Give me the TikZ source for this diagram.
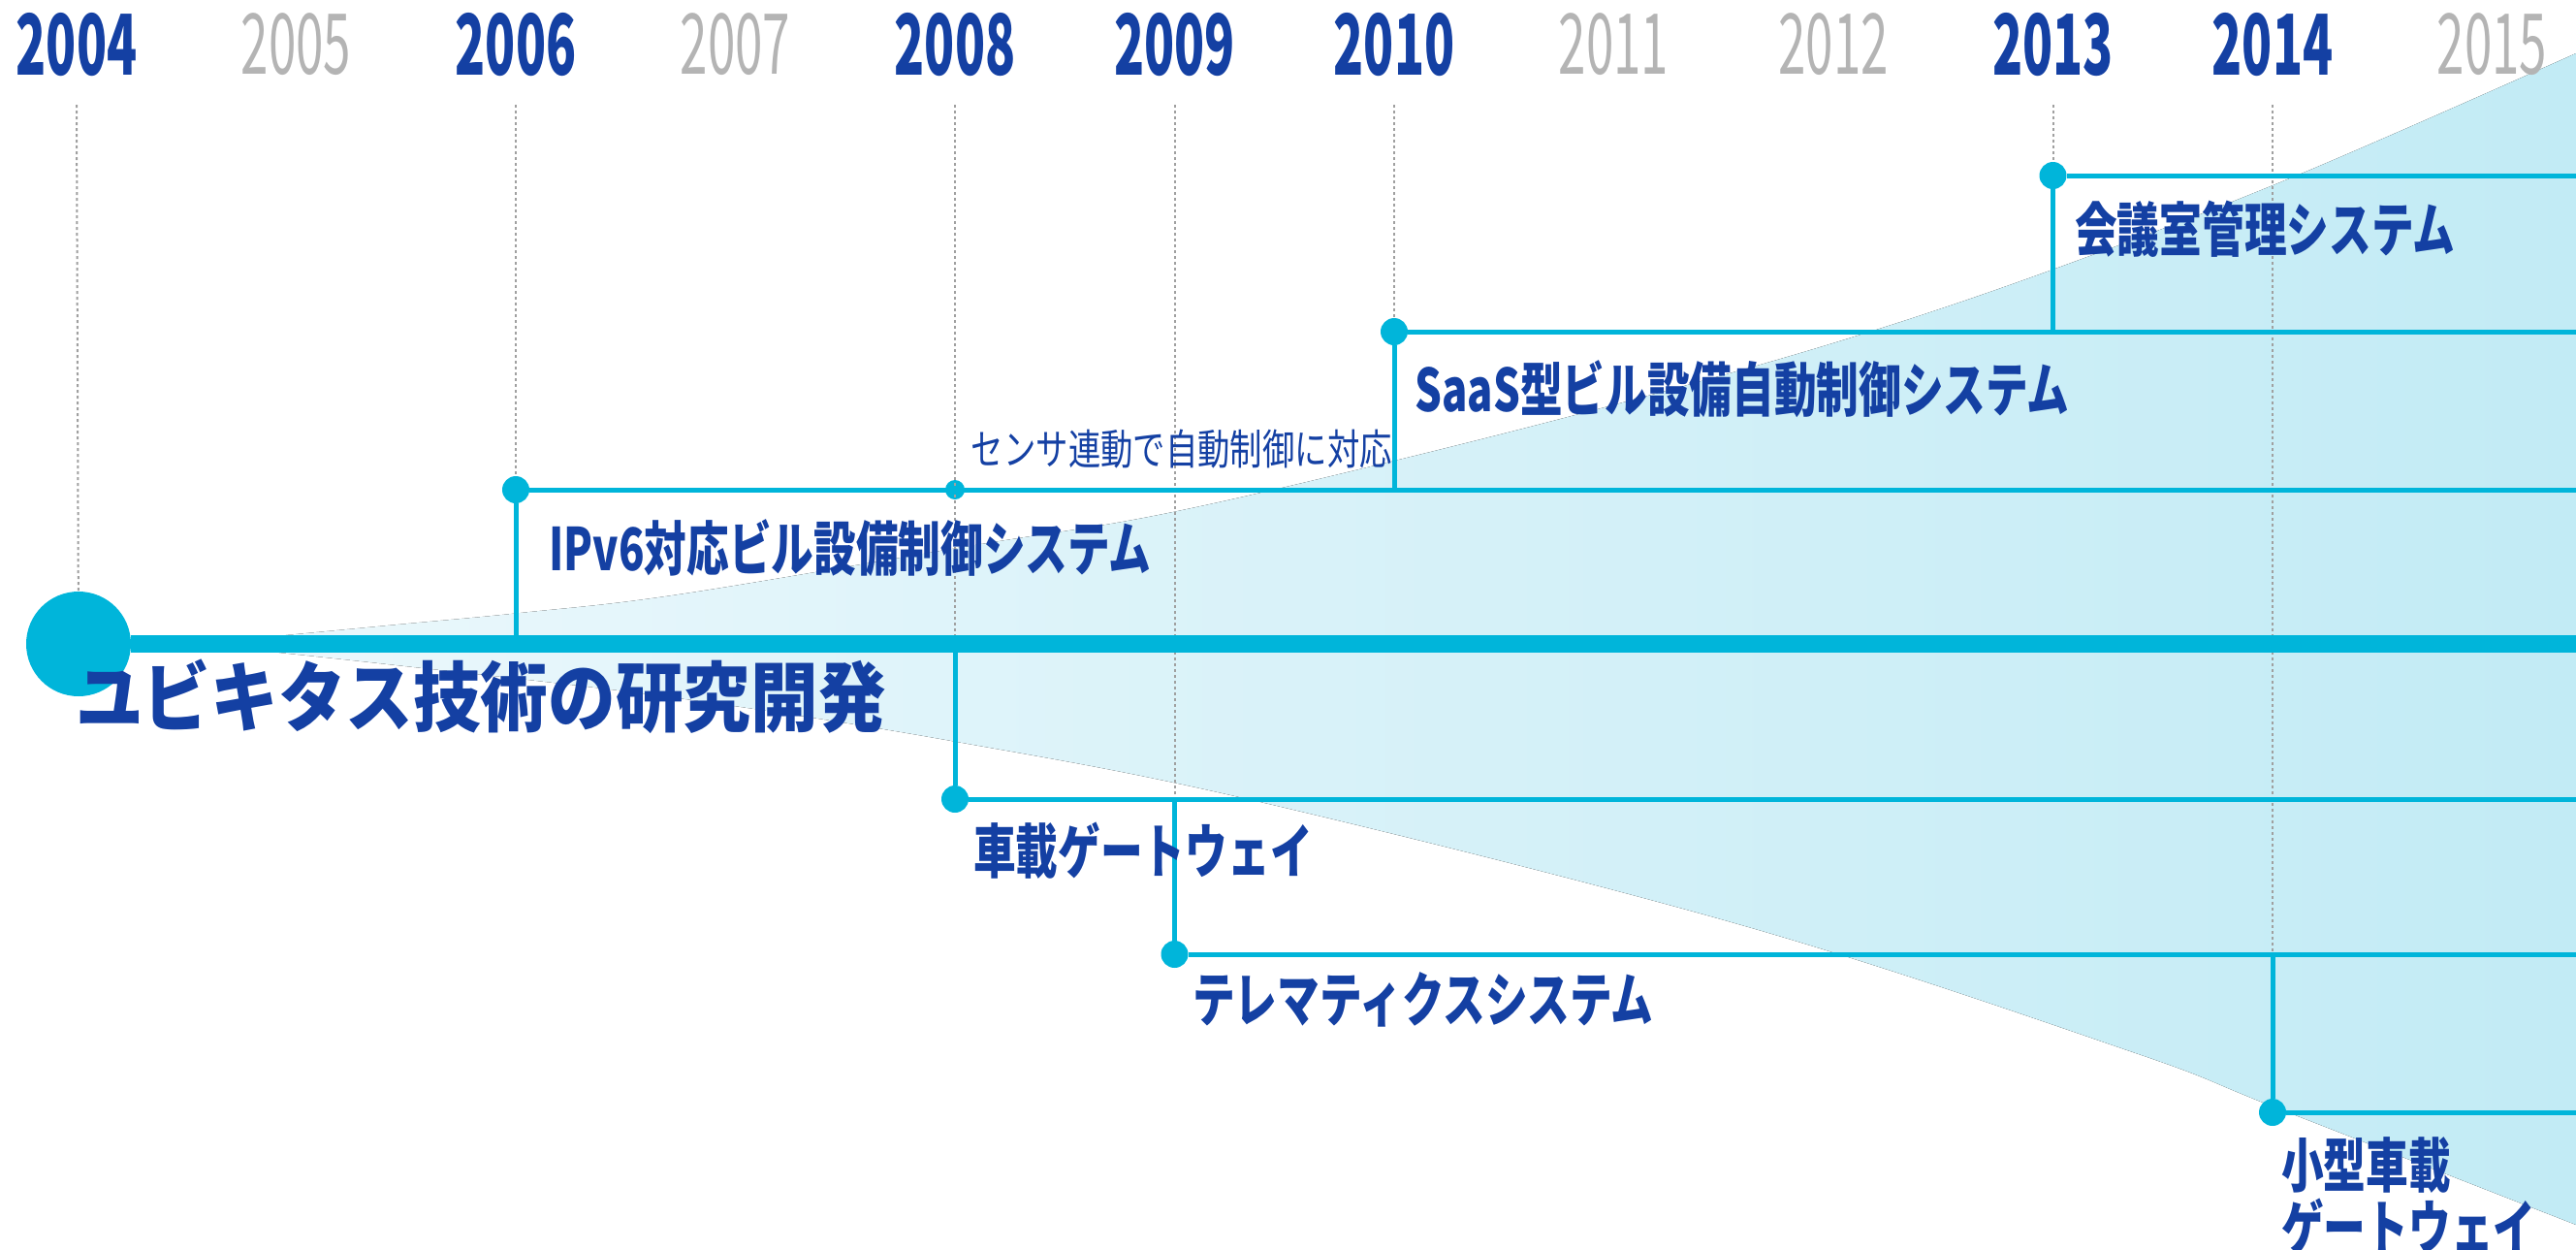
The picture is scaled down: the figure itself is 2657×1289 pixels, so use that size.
\documentclass[tikz,border=0pt]{standalone}
\usepackage{fontspec}
\usepackage{tikz}

\newfontfamily\labelfont[FakeStretch=0.72]{Noto Sans CJK JP}
\newfontfamily\titlefont[FakeStretch=0.885]{Noto Sans CJK JP}
\newfontfamily\notefont[FakeStretch=0.77]{Noto Sans CJK JP}
\newfontfamily\yearfont[FakeStretch=0.59]{Noto Sans CJK JP}

\definecolor{lineblue}{RGB}{0,181,218}
\definecolor{textblue}{RGB}{20,64,163}
\definecolor{yeargray}{RGB}{180,180,180}
\definecolor{guidegray}{RGB}{160,160,160}
\definecolor{fanleft}{RGB}{236,248,252}
\definecolor{fanright}{RGB}{194,235,245}

\tikzset{
  mainline/.style={line width=13.5pt, color=lineblue},
  branch/.style={line width=3.75pt, color=lineblue},
  guide/.style={line width=1.5pt, color=guidegray, dash pattern={on 2.25pt off 2.25pt}},
  bigdot/.style={circle, fill=lineblue, inner sep=0pt, minimum size=81pt},
  dot/.style={circle, fill=lineblue, inner sep=0pt, minimum size=21pt},
  smalldot/.style={circle, fill=lineblue, inner sep=0pt, minimum size=15pt},
  milestone/.style={text=textblue, inner sep=0pt, font=\yearfont\bfseries\fontsize{65}{65}\selectfont},
  quietyear/.style={text=yeargray, inner sep=0pt, font=\yearfont\fontsize{65}{65}\selectfont},
  product/.style={text=textblue, inner sep=0pt, anchor=west, align=left, font=\labelfont\bfseries\fontsize{45.5}{48}\selectfont},
  remark/.style={text=textblue, inner sep=0pt, anchor=east, font=\notefont\fontsize{32.5}{34}\selectfont},
  headline/.style={text=textblue, inner sep=0pt, anchor=west, font=\titlefont\bfseries\fontsize{59}{62}\selectfont},
}

\begin{document}
\begin{tikzpicture}[x=0.75pt,y=0.75pt,yscale=-1,xscale=1]
\useasboundingbox (0,0) rectangle (2657,1289);

%Shape: Fan
\fill [left color=fanleft, right color=fanright]
  plot [smooth, tension=0.6] coordinates {(200,664) (400,645) (537,632) (700,613) (1000,563) (1200,530) (1447,473) (1700,408) (1913,347) (2120,277) (2364,183) (2657,55)}
  -- plot [smooth, tension=0.6] coordinates {(2657,1263) (2347,1142) (2200,1085) (1800,955) (1300,827) (987,765) (700,720) (400,685) (200,664)}
  -- cycle ;

%Years
\node [milestone] (y2004) at (79,46) {2004};
\node [quietyear] (y2005) at (305.5,46) {2005};
\node [milestone] (y2006) at (532,46) {2006};
\node [quietyear] (y2007) at (758.5,46) {2007};
\node [milestone] (y2008) at (985,46) {2008};
\node [milestone] (y2009) at (1211.5,46) {2009};
\node [milestone] (y2010) at (1438,46) {2010};
\node [quietyear] (y2011) at (1664.5,46) {2011};
\node [quietyear] (y2012) at (1891,46) {2012};
\node [milestone] (y2013) at (2117.5,46) {2013};
\node [milestone] (y2014) at (2344,46) {2014};
\node [quietyear] (y2015) at (2570.5,46) {2015};
\coordinate (top) at (0,108);

%Points
\node [bigdot] (root) at (81,664) {};
\node [dot] (d2006) at (532,505) {};
\node [smalldot] (d2008a) at (985,505) {};
\node [dot] (d2010) at (1438,342) {};
\node [dot] (d2013) at (2117.5,181) {};
\node [dot] (d2008) at (985,824) {};
\node [dot] (d2009) at (1211.5,984) {};
\node [dot] (d2014) at (2344,1147) {};
\coordinate (e0) at (2657,664);
\coordinate (e2006) at (2657,505);
\coordinate (e2010) at (2657,342);
\coordinate (e2013) at (2657,181);
\coordinate (e2008) at (2657,824);
\coordinate (e2009) at (2657,984);
\coordinate (e2014) at (2657,1147);

%Dashed Lines
\draw [guide] (y2004 |- top) -- (root) ;
\draw [guide] (y2006 |- top) -- (d2006) ;
\draw [guide] (y2008 |- top) -- (d2008 |- root) ;
\draw [guide] (y2009 |- top) -- (d2009 |- d2008) ;
\draw [guide] (y2010 |- top) -- (d2010) ;
\draw [guide] (y2013 |- top) -- (d2013) ;
\draw [guide] (y2014 |- top) -- (d2014 |- d2009) ;

%Straight Lines
\draw [branch] (d2006) -- (d2006 |- root) ;
\draw [branch] (d2006) -- (e2006) ;
\draw [branch] (d2010) -- (d2010 |- d2006) ;
\draw [branch] (d2010) -- (e2010) ;
\draw [branch] (d2013) -- (d2013 |- d2010) ;
\draw [branch] (d2013) -- (e2013) ;
\draw [branch] (d2008) -- (d2008 |- root) ;
\draw [branch] (d2008) -- (e2008) ;
\draw [branch] (d2009) -- (d2009 |- d2008) ;
\draw [branch] (d2009) -- (e2009) ;
\draw [branch] (d2014) -- (d2014 |- d2009) ;
\draw [branch] (d2014) -- (e2014) ;
\draw [mainline] (root) -- (e0) ;

%Text
\node [headline] (ubiq) at (78,718) {ユビキタス技術の研究開発};
\node [product] (ipv6) at (566,565) {IPv6対応ビル設備制御システム};
\node [remark] (sensor) at (1436,463) {センサ連動で自動制御に対応};
\node [product] (saas) at (1459,401) {SaaS型ビル設備自動制御システム};
\node [product] (kaigi) at (2140,236) {会議室管理システム};
\node [product] (shasai) at (1004,877) {車載ゲートウェイ};
\node [product] (tele) at (1230,1031) {テレマティクスシステム};
\node [product] (kogata) at (2353,1233) {小型車載\\ゲートウェイ};
\end{tikzpicture}
\end{document}
